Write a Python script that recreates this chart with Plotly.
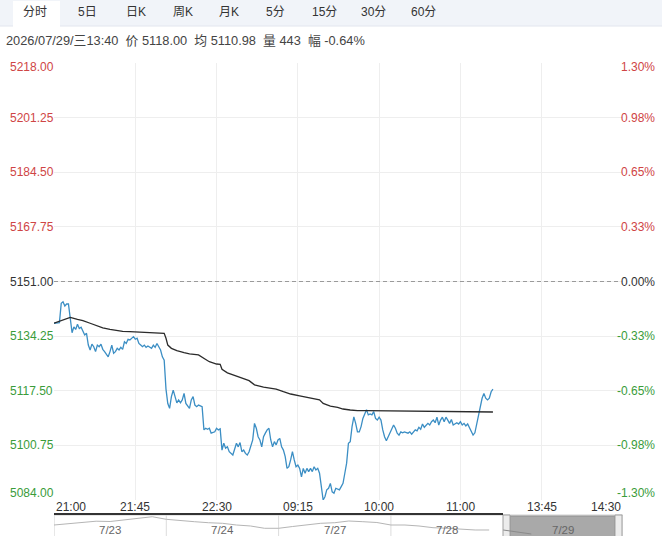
import plotly.graph_objects as go

# ---------------- data ----------------
# trading-minute offset from 21:00 (night 21:00-23:00, day 09:00-10:15, 10:30-11:30, 13:30-15:00)
minutes = [0, 3, 4, 5, 6, 7, 8, 9, 10, 11,
           12, 13, 14, 15, 17, 18, 19, 20, 21, 22,
           23, 24, 25, 26, 27, 28, 30, 31, 32, 33,
           34, 35, 36, 37, 38, 39, 40, 41, 42, 44,
           45, 46, 47, 48, 49, 50, 51, 52, 54, 55,
           56, 57, 58, 59, 60, 61, 62, 63, 64, 65,
           66, 67, 68, 69, 70, 71, 72, 73, 75, 76,
           77, 78, 79, 80, 81, 82, 83, 84, 85, 86,
           87, 89, 90, 91, 92, 93, 94, 95, 96, 97,
           99, 100, 101, 102, 103, 104, 105, 106, 107, 108,
           110, 111, 112, 113, 114, 115, 116, 117, 118, 119,
           120, 121, 122, 123, 124, 125, 126, 127, 128, 129,
           130, 131, 132, 133, 134, 135, 136, 137, 138, 139,
           140, 141, 142, 143, 144, 145, 146, 147, 148, 149,
           150, 151, 152, 153, 154, 155, 156, 158, 159, 160,
           161, 162, 163, 164, 165, 166, 167, 168, 169, 170,
           171, 172, 173, 174, 175, 176, 177, 178, 179, 180,
           181, 182, 183, 184, 185, 187, 188, 189, 190, 191,
           192, 193, 194, 196, 197, 198, 199, 200, 201, 202,
           203, 204, 205, 207, 208, 209, 210, 211, 212, 213,
           214, 215, 216, 217, 218, 219, 220, 221, 223, 224,
           225, 226, 227, 228, 229, 230, 231, 232, 233, 234,
           235, 236, 237, 238, 239, 240, 241, 242, 243]
price = [5138.2, 5138.4, 5144.3, 5144.8, 5143.5, 5144.1, 5144.1, 5140.2, 5135.3, 5137.1,
         5136.3, 5137.9, 5136.6, 5137.0, 5134.6, 5135.1, 5131.5, 5130.0, 5131.8, 5131.0,
         5129.5, 5131.5, 5131.0, 5131.8, 5130.2, 5129.5, 5127.9, 5129.5, 5131.5, 5129.0,
         5129.5, 5130.5, 5130.0, 5130.8, 5130.2, 5132.5, 5132.0, 5133.3, 5133.1, 5134.1,
         5133.3, 5133.6, 5132.0, 5131.5, 5131.0, 5131.5, 5130.8, 5131.2, 5130.5, 5131.5,
         5130.8, 5132.0, 5131.0, 5130.0, 5127.9, 5126.9, 5118.0, 5113.6, 5112.1, 5115.7,
         5117.7, 5115.7, 5113.8, 5114.7, 5113.8, 5114.7, 5116.7, 5113.6, 5112.1, 5114.7,
         5115.7, 5113.1, 5112.6, 5113.1, 5112.8, 5112.6, 5105.5, 5106.0, 5105.7, 5106.0,
         5104.5, 5104.9, 5106.0, 5105.5, 5105.8, 5099.3, 5101.4, 5099.9, 5100.3, 5098.8,
         5097.8, 5099.9, 5101.4, 5100.3, 5101.6, 5098.8, 5099.3, 5098.3, 5097.8, 5098.8,
         5102.4, 5107.5, 5106.0, 5103.4, 5102.4, 5100.3, 5103.4, 5104.5, 5105.5, 5106.0,
         5102.4, 5100.3, 5101.9, 5100.9, 5102.4, 5102.9, 5100.3, 5099.3, 5097.3, 5093.7,
         5094.2, 5096.3, 5098.8, 5096.3, 5094.2, 5094.7, 5093.7, 5091.1, 5093.7, 5092.2,
         5093.7, 5092.7, 5093.7, 5092.7, 5094.2, 5093.2, 5093.7, 5092.2, 5088.1, 5084.0,
         5085.0, 5087.1, 5087.6, 5089.1, 5086.5, 5086.1, 5087.6, 5087.1, 5088.1, 5089.1,
         5092.2, 5095.3, 5101.4, 5101.9, 5106.5, 5109.5, 5107.5, 5104.9, 5104.9, 5106.5,
         5109.0, 5110.5, 5111.7, 5110.1, 5110.4, 5110.1, 5111.1, 5109.0, 5108.5, 5109.4,
         5108.5, 5105.5, 5103.4, 5102.2, 5103.4, 5106.0, 5107.0, 5106.0, 5104.5, 5103.9,
         5104.9, 5104.6, 5104.9, 5104.5, 5104.9, 5104.2, 5104.9, 5105.5, 5105.2, 5106.3,
         5105.7, 5107.3, 5106.3, 5107.5, 5107.0, 5108.0, 5108.5, 5107.7, 5109.4, 5107.0,
         5108.5, 5109.4, 5108.0, 5109.4, 5108.5, 5107.5, 5108.7, 5107.0, 5107.7, 5107.3,
         5108.0, 5107.0, 5107.5, 5106.7, 5107.3, 5106.0, 5104.9, 5103.9, 5104.6, 5107.5,
         5110.6, 5112.6, 5115.2, 5116.7, 5115.2, 5114.7, 5115.2, 5117.2, 5118.0]

avg_minutes = [0, 4, 7, 9, 13, 16, 20, 24, 27, 31, 35, 38, 42, 46, 49, 53, 59, 61, 62, 63,
               65, 68, 72, 75, 80, 82, 84, 86, 90, 92, 93, 96, 99, 103, 108, 111, 116, 123,
               127, 131, 136, 142, 147, 149, 153, 157, 160, 164, 168, 173, 188, 206, 225, 243]
avg_price = [5138.2, 5139.0, 5139.7, 5140.0, 5139.4, 5139.0, 5138.2, 5137.4, 5136.8, 5136.3,
             5135.9, 5135.7, 5135.6, 5135.5, 5135.4, 5135.4, 5135.3, 5135.1, 5133.6, 5131.5,
             5130.5, 5129.8, 5129.2, 5128.8, 5128.5, 5127.9, 5127.1, 5126.4, 5125.7, 5125.6,
             5124.1, 5123.0, 5122.3, 5121.6, 5120.6, 5119.3, 5118.6, 5118.0, 5117.2, 5116.5,
             5115.9, 5115.2, 5114.7, 5113.6, 5112.8, 5112.4, 5111.9, 5111.6, 5111.4, 5111.4,
             5111.3, 5111.1, 5111.0, 5110.98]

prev_close = 5151.00
y_ticks = [5218.00, 5201.25, 5184.50, 5167.75, 5151.00, 5134.25, 5117.50, 5100.75, 5084.00]
x_tick_min = [0, 45, 90, 135, 180, 225, 270, 315]
x_tick_lbl = ["21:00", "21:45", "22:30", "09:15", "10:00", "11:00", "13:45", "14:30"]

tabs = ["分时", "5日", "日K", "周K", "月K", "5分", "15分", "30分", "60分"]
info_text = "2026/07/29/三13:40  价 5118.00  均 5110.98  量 443  幅 -0.64%"

nav_days = ["7/23", "7/24", "7/27", "7/28", "7/29"]
nav_vals = [
    [5156.2, 5162.8, 5169.9, 5177.0, 5175.4, 5183.6, 5191.8, 5201.6],
    [5187.4, 5179.8, 5174.3, 5168.8, 5165.5, 5156.2, 5150.8, 5138.2],
    [5138.2, 5148.0, 5156.2, 5165.5, 5168.8, 5178.1, 5174.3, 5169.9],
    [5156.2, 5156.2, 5150.8, 5141.5, 5138.2, 5132.7, 5128.9, 5128.9],
    [5128.9, 5119.6, 5107.0],
]
NAV_PER_DAY = 8

# ---------------- geometry / style ----------------
W, H = 662, 536
L, R, T, B = 54, 623, 63, 500
NAV_TOP = 515
FONT = "Liberation Sans, Arial, Noto Sans CJK SC, sans-serif"
RED, GREEN, DARK = "#cf4545", "#3a9c3a", "#333333"


def xp(px):
    return (px - L) / (R - L)


def yp(py):
    return (H - py) / (H - T)


fig = go.Figure()

fig.add_trace(go.Scatter(x=minutes, y=price, mode="lines",
                         line=dict(color="#3b8ec4", width=1.3), hoverinfo="skip"))
fig.add_trace(go.Scatter(x=avg_minutes, y=avg_price, mode="lines",
                         line=dict(color="#2b2b2b", width=1.3), hoverinfo="skip"))

# navigator mini line
nav_x, nav_y = [], []
for d, vals in enumerate(nav_vals):
    for k, v in enumerate(vals):
        nav_x.append(d + k / NAV_PER_DAY)
        nav_y.append(v)
fig.add_trace(go.Scatter(x=nav_x[:-3], y=nav_y[:-3], mode="lines", xaxis="x2", yaxis="y2",
                         line=dict(color="#b5b5b5", width=1), hoverinfo="skip"))
fig.add_trace(go.Scatter(x=nav_x[-3:], y=nav_y[-3:], mode="lines", xaxis="x2", yaxis="y2",
                         line=dict(color="#8a8a8a", width=1), hoverinfo="skip"))

nav_span = (R - L) / 112.3

shapes = []
# tab bar
shapes.append(dict(type="rect", xref="paper", yref="paper", x0=xp(0), x1=xp(W), y0=yp(26), y1=yp(0),
                   fillcolor="#f1f4f9", line=dict(width=0), layer="above"))
shapes.append(dict(type="line", xref="paper", yref="paper", x0=xp(0), x1=xp(W), y0=yp(26), y1=yp(26),
                   line=dict(color="#e2e6ee", width=1)))
shapes.append(dict(type="rect", xref="paper", yref="paper", x0=xp(13), x1=xp(60), y0=yp(27), y1=yp(1),
                   fillcolor="#ffffff", line=dict(width=0), layer="above"))
# dashed previous-close line
shapes.append(dict(type="line", xref="paper", yref="y", x0=0, x1=xp(619), y0=prev_close, y1=prev_close,
                   line=dict(color="#9a9a9a", width=1, dash="4px,3px")))
# navigator frame and separators
shapes.append(dict(type="rect", xref="x2", yref="paper", x0=0, x1=nav_span, y0=yp(H + 2), y1=yp(NAV_TOP),
                   fillcolor="#ffffff", line=dict(color="#cfcfcf", width=1), layer="below"))
for d in range(1, 4):
    shapes.append(dict(type="line", xref="x2", yref="paper", x0=d, x1=d, y0=yp(H), y1=yp(NAV_TOP),
                       line=dict(color="#dcdcdc", width=1), layer="below"))
# selected range (last day)
shapes.append(dict(type="rect", xref="paper", yref="paper", x0=xp(510), x1=xp(615), y0=yp(H + 2),
                   y1=yp(NAV_TOP + 1), fillcolor="#a9a9a9", line=dict(color="#8f8f8f", width=1),
                   layer="below"))
for a, b in [(503, 510), (615, 622)]:
    shapes.append(dict(type="rect", xref="paper", yref="paper", x0=xp(a), x1=xp(b), y0=yp(H + 2),
                       y1=yp(NAV_TOP), fillcolor="#ececec", line=dict(color="#a0a0a0", width=1),
                       layer="below"))
# dark bar under time axis
shapes.append(dict(type="line", xref="paper", yref="paper", x0=0, x1=xp(503), y0=yp(514), y1=yp(514),
                   line=dict(color="#333333", width=2)))

ann = []
# tabs
tab_x = [35, 87, 136, 183, 229, 275, 324, 373, 423]
for t, x in zip(tabs, tab_x):
    ann.append(dict(text=t, xref="paper", yref="paper", x=xp(x), y=yp(12), showarrow=False,
                    xanchor="center", yanchor="middle", font=dict(family=FONT, size=12, color="#333")))
ann.append(dict(text=info_text, xref="paper", yref="paper", x=xp(4), y=yp(41), showarrow=False,
                xanchor="left", yanchor="middle", font=dict(family=FONT, size=12.8, color="#444")))

# y labels, left price and right percent
for i, v in enumerate(y_ticks):
    col = RED if v > prev_close else (GREEN if v < prev_close else DARK)
    pct = (v - prev_close) / prev_close * 100
    shift = -4 if i == 0 else (7 if i == len(y_ticks) - 1 else 0)
    ann.append(dict(text=f"{v:.2f}", xref="paper", yref="y", x=xp(8), y=v, yshift=shift,
                    showarrow=False, xanchor="left", yanchor="middle",
                    font=dict(family=FONT, size=12, color=col)))
    ann.append(dict(text=f"{pct:.2f}%", xref="paper", yref="y", x=xp(657), y=v, yshift=shift,
                    showarrow=False, xanchor="right", yanchor="middle",
                    font=dict(family=FONT, size=12, color=col)))

# x labels
for i, (m, lbl) in enumerate(zip(x_tick_min, x_tick_lbl)):
    anchor = "left" if i == 0 else ("right" if i == len(x_tick_min) - 1 else "center")
    ann.append(dict(text=lbl, xref="x", yref="paper", x=m, y=yp(507), showarrow=False,
                    xanchor=anchor, yanchor="middle", font=dict(family=FONT, size=12, color="#333")))

# navigator day labels
for d, lbl in enumerate(nav_days):
    cx = d + 0.5 if d < 4 else (4 + nav_span) / 2
    ann.append(dict(text=lbl, xref="x2", yref="paper", x=cx, y=yp(529.5), showarrow=False,
                    xanchor="center", yanchor="middle", font=dict(family=FONT, size=11.5, color="#666")))

fig.update_layout(
    width=W, height=H,
    margin=dict(l=L, r=W - R, t=T, b=0),
    paper_bgcolor="white", plot_bgcolor="white",
    showlegend=False,
    xaxis=dict(range=[0, 315], domain=[0, 1], tickvals=x_tick_min[1:-1], showticklabels=False,
               showgrid=True, gridcolor="#eeeeee", gridwidth=1, zeroline=False, showline=False,
               ticks="", fixedrange=True),
    yaxis=dict(range=[y_ticks[-1], y_ticks[0]], domain=[(H - B) / (H - T), 1], tickvals=y_ticks,
               showticklabels=False, showgrid=True, gridcolor="#eeeeee", gridwidth=1,
               zeroline=False, showline=False, ticks="", fixedrange=True),
    xaxis2=dict(range=[0, nav_span], domain=[0, 1], anchor="y2", visible=False, fixedrange=True),
    yaxis2=dict(range=[5096, 5211], domain=[0, (H - NAV_TOP) / (H - T)], anchor="x2",
                visible=False, fixedrange=True),
    shapes=shapes,
    annotations=ann,
)

fig.write_html("out.html", config={"displayModeBar": False},
               post_script="document.body.style.margin='0';document.body.style.overflow='hidden';")
